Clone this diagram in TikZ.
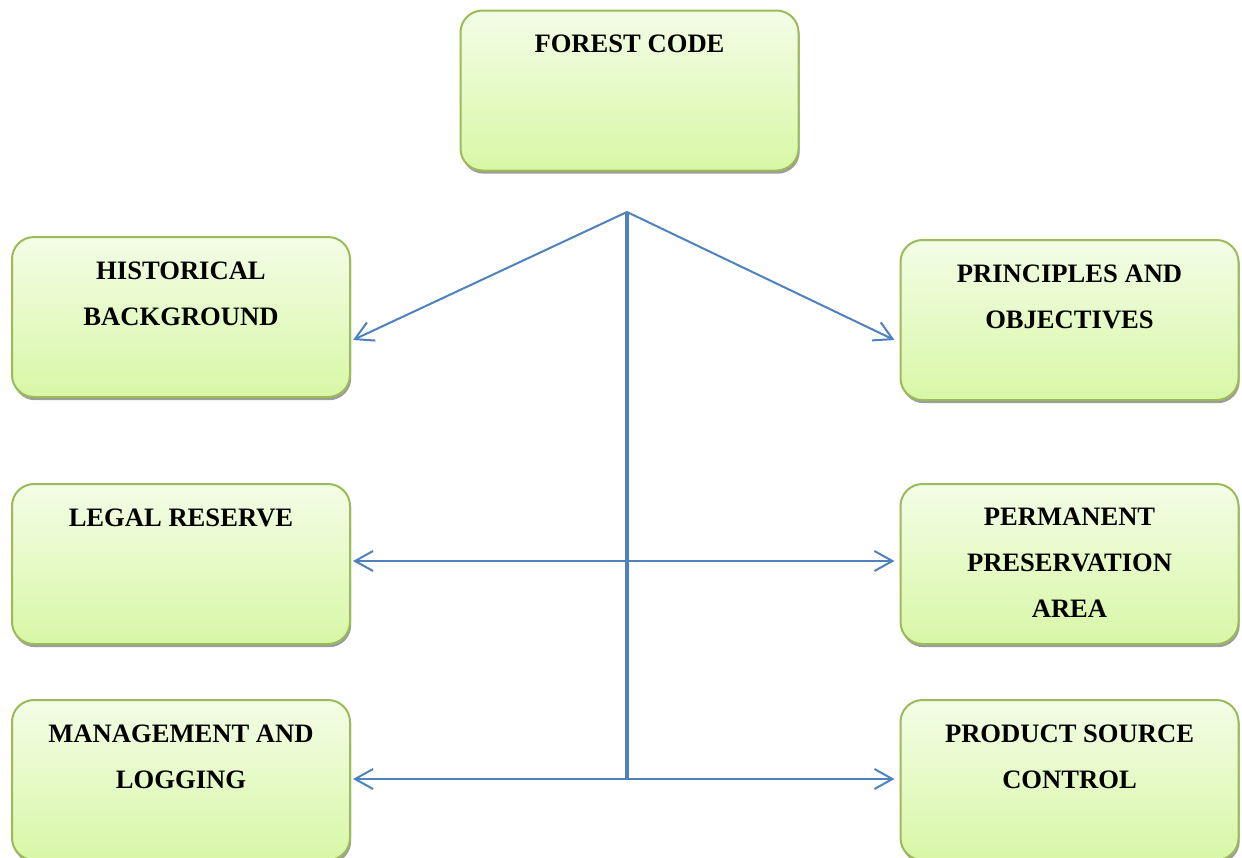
\documentclass[tikz,border=0pt]{standalone}
\usepackage{fontspec}
\setmainfont{Liberation Serif}
\usetikzlibrary{positioning,shadows,arrows.meta}
\definecolor{boxline}{HTML}{9BBB59}
\definecolor{boxtop}{HTML}{F3FDE6}
\definecolor{boxbot}{HTML}{D8F7A6}
\definecolor{linkblue}{HTML}{4F81BD}
\tikzset{
  box/.style={rectangle,rounded corners=11pt,draw=boxline,line width=1pt,top color=boxtop,bottom color=boxbot,minimum width=169pt,minimum height=80pt,drop shadow={shadow xshift=0.6pt,shadow yshift=-1.6pt,fill=black!55,opacity=0.7}},
  txt/.style={inner sep=0pt,align=center,font=\bfseries\fontsize{13.3}{23}\selectfont},
  arr/.style={draw=linkblue,line width=1pt,-{Straight Barb[length=9pt,width=10pt]}},
  twoarr/.style={draw=linkblue,line width=1pt,{Straight Barb[length=9pt,width=10pt]}-{Straight Barb[length=9pt,width=10pt]}}
}
\begin{document}
\begin{tikzpicture}[x=0.5pt,y=-0.5pt]
            \useasboundingbox (0,0) rectangle (1242,857);
            % boxes
            \node[box] (forest) at (629.5,90.5) {};
            \node[box] (hist) at (181,317) {};
            \node[box] (princ) at (1069.5,320) {};
            \node[box] (legal) at (181,564) {};
            \node[box] (perm) at (1069.5,564) {};
            \node[box] (mgmt) at (181,780) {};
            \node[box] (prod) at (1069.5,780) {};
            % texts
            \node[txt,below=12.5pt of forest.north] (forestT) {FOREST CODE};
            \node[txt,below=12.5pt of hist.north] (histT) {HISTORICAL\\BACKGROUND};
            \node[txt,below=12.5pt of princ.north] (princT) {PRINCIPLES AND\\OBJECTIVES};
            \node[txt,below=12.5pt of legal.north] (legalT) {LEGAL RESERVE};
            \node[txt,below=12.5pt of perm.north] (permT) {PERMANENT\\PRESERVATION\\AREA};
            \node[txt,below=12.5pt of mgmt.north] (mgmtT) {MANAGEMENT AND\\LOGGING};
            \node[txt,below=12.5pt of prod.north] (prodT) {PRODUCT SOURCE\\CONTROL};
            % links
            \coordinate (hub) at (627,212);
            \coordinate (foot) at (627,779);
            \draw[draw=linkblue,line width=1.7pt] (hub) -- (foot);
            \draw[arr] (hub) -- ([shift={(2,23)}]hist.east);
            \draw[arr] (hub) -- ([shift={(-5,20)}]princ.west);
            \draw[twoarr] ([shift={(2,-3)}]legal.east) -- ([shift={(-5,-3)}]perm.west);
            \draw[twoarr] ([shift={(2,-1)}]mgmt.east) -- ([shift={(-5,-1)}]prod.west);
\end{tikzpicture}
\end{document}
